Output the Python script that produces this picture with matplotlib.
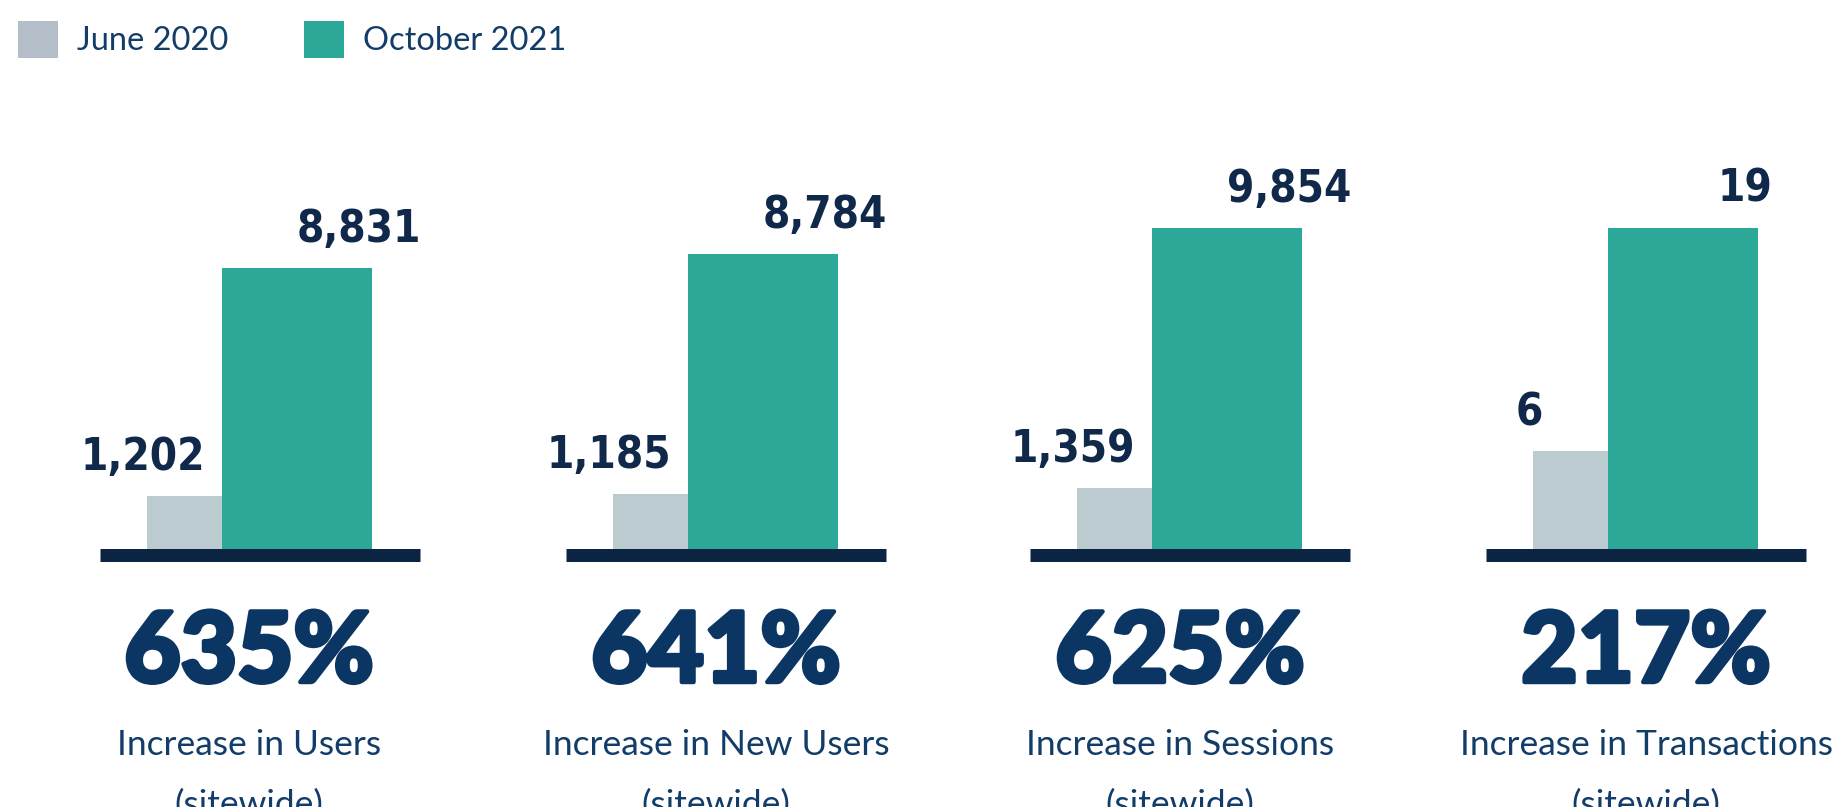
import numpy as np
import matplotlib
matplotlib.use("Agg")
import matplotlib.pyplot as plt
from matplotlib.patches import Patch
import matplotlib.patheffects as pe

# ---------------- data ----------------
series_names = ["June 2020", "October 2021"]
metrics = ["Users", "New Users", "Sessions", "Transactions"]
june_2020 = [1202, 1185, 1359, 6]
october_2021 = [8831, 8784, 9854, 19]
pct_increase = ["635%", "641%", "625%", "217%"]
subtitles = ["Increase in Users", "Increase in New Users",
             "Increase in Sessions", "Increase in Transactions"]
subtitle2 = "(sitewide)"

# ---------------- style / layout ----------------
W, H = 1841, 807
C_GREY = "#bccbcf"
C_GREY_LEG = "#b4bec8"
C_GREEN = "#2ca899"
C_BASE = "#0b2441"
C_LABEL = "#10294a"
C_PCT = "#0b3563"
C_SUB = "#123d69"

panel_left_px = [100, 566, 1030, 1486]
panel_w_px = 320
base_px = 554.5            # baseline centre, px from top
top_px = 120               # axes top, px from top
green_px = [286.5, 300.5, 326.5, 326.5]   # drawn green height (visual scale)
exponents = [0.8, 0.8, 0.8, 1.0]          # visual power scale per panel
text_shift_px = [-11, -10, -10, 0]

unit = 75.0                # px per x unit
left_margin = 47.0 / unit
xlim = (-left_margin, panel_w_px / unit - left_margin)

fig = plt.figure(figsize=(W / 100, H / 100), dpi=100)
fig.patch.set_facecolor("white")

ax_h = (base_px - top_px) / H
for i in range(len(metrics)):
    ax = fig.add_axes([panel_left_px[i] / W, (H - base_px) / H,
                       panel_w_px / W, ax_h])
    p = exponents[i]
    fwd = lambda v, p=p: np.sign(v) * np.abs(v) ** p
    inv = lambda v, p=p: np.sign(v) * np.abs(v) ** (1.0 / p)
    ax.set_yscale("function", functions=(fwd, inv))
    height_ax_px = base_px - top_px
    ytop = october_2021[i] * (height_ax_px / green_px[i]) ** (1.0 / p)
    ax.set_ylim(0, ytop)
    ax.set_xlim(*xlim)

    ax.bar([0], [june_2020[i]], width=1, align="edge", color=C_GREY, zorder=2)
    ax.bar([1], [october_2021[i]], width=2, align="edge", color=C_GREEN, zorder=2)
    ax.axhline(0, color=C_BASE, lw=13 * 0.72, solid_capstyle="butt",
               zorder=4, clip_on=False)

    ax.annotate(f"{june_2020[i]:,}", xy=(0, june_2020[i]),
                xytext=(-4, 26), textcoords="offset pixels",
                ha="center", va="baseline", fontsize=31.5,
                fontweight="bold", fontstretch="condensed",
                family="DejaVu Sans", color=C_LABEL, annotation_clip=False)
    ax.annotate(f"{october_2021[i]:,}", xy=(3, october_2021[i]),
                xytext=(-13, 26), textcoords="offset pixels",
                ha="center", va="baseline", fontsize=31.5,
                fontweight="bold", fontstretch="condensed",
                family="DejaVu Sans", color=C_LABEL, annotation_clip=False)
    ax.axis("off")

    cx = (panel_left_px[i] + panel_w_px / 2 + text_shift_px[i]) / W
    fig.text(cx, (H - 682) / H, pct_increase[i], ha="center", va="baseline",
             fontsize=70, fontweight="black", family=["Lato", "DejaVu Sans"],
             color=C_PCT,
             path_effects=[pe.withStroke(linewidth=3.2, foreground=C_PCT)])
    fig.text(cx, (H - 755) / H, subtitles[i], ha="center", va="baseline",
             fontsize=25.5, family=["Lato", "DejaVu Sans"], color=C_SUB)
    fig.text(cx, (H - 815) / H, subtitle2, ha="center", va="baseline",
             fontsize=25.5, family=["Lato", "DejaVu Sans"], color=C_SUB)

handles = [Patch(facecolor=C_GREY_LEG, edgecolor="none"),
           Patch(facecolor=C_GREEN, edgecolor="none")]
leg_fs = 23.5
fig.legend(handles, series_names, loc="upper left",
           bbox_to_anchor=(18 / W, 1 - 21 / H), ncol=2, frameon=False,
           borderpad=0, borderaxespad=0,
           handlelength=40 * 0.72 / leg_fs, handleheight=44 * 0.72 / leg_fs,
           handletextpad=19 * 0.72 / leg_fs, columnspacing=76 * 0.72 / leg_fs,
           prop={"family": ["Lato", "DejaVu Sans"], "size": leg_fs},
           labelcolor=C_SUB)

fig.savefig("out.png", dpi=100, facecolor="white")
